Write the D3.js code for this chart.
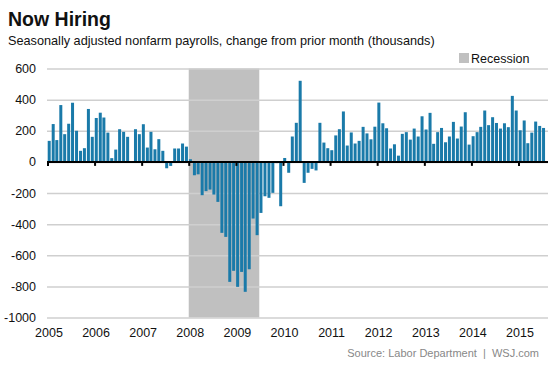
<!DOCTYPE html>
<html>
<head>
<meta charset="utf-8">
<script src="https://cdn.jsdelivr.net/npm/d3@7"></script>
<style>
  body { margin: 0; background: #fff; }
  svg { font-family: "Liberation Sans", Arial, sans-serif; }
</style>
</head>
<body>
<div id="chart"></div>
<script>
// monthly change in nonfarm payrolls, thousands (Jan 2005 - Jul 2015)
var years = [2005, 2006, 2007, 2008, 2009, 2010, 2011, 2012, 2013, 2014, 2015];

var jobs2005 = [135, 243, 140, 365, 178, 245, 380, 200, 71, 88, 340, 161];
var jobs2006 = [282, 316, 285, 188, 24, 79, 210, 193, 161, 3, 210, 178];
var jobs2007 = [242, 92, 193, 81, 146, 71, -41, -26, 86, 86, 118, 98];
var jobs2008 = [17, -86, -80, -214, -188, -178, -210, -257, -456, -482, -771, -700];
var jobs2009 = [-803, -707, -835, -690, -364, -471, -328, -221, -231, -199, -8, -285];
var jobs2010 = [25, -70, 163, 251, 521, -135, -70, -45, -55, 251, 124, 88];
var jobs2011 = [75, 170, 210, 324, 105, 189, 118, 135, 225, 183, 145, 226];
var jobs2012 = [381, 248, 216, 86, 113, 40, 180, 191, 143, 214, 163, 293];
var jobs2013 = [208, 315, 116, 191, 218, 126, 163, 257, 150, 227, 319, 111];
var jobs2014 = [165, 191, 225, 330, 236, 287, 250, 214, 248, 223, 424, 330];
var jobs2015 = [203, 266, 120, 188, 259, 231, 218];

var yTicks = [600, 400, 200, 0, -200, -400, -600, -800, -1000];
var recession = [new Date(2008, 0, 1), new Date(2009, 6, 1)];

var allYears = [jobs2005, jobs2006, jobs2007, jobs2008, jobs2009, jobs2010,
                jobs2011, jobs2012, jobs2013, jobs2014, jobs2015];
var data = [];
allYears.forEach(function(arr, i) {
  arr.forEach(function(v, m) {
    data.push({ date: new Date(years[i], m, 1), value: v });
  });
});

var width = 553,
    height = 369;

var svg = d3.select("#chart")
    .append("svg")
    .attr("width", width)
    .attr("height", height);

var xScale = d3.scaleTime()
    .domain([new Date(2005, 0, 1), new Date(2015, 0, 1)])
    .range([47.5, 518.5]);

var yScale = d3.scaleLinear()
    .domain([-1000, 600])
    .range([317.5, 68.5]);

var gridLeft = 47, gridRight = 548;

// recession shading
svg.append("rect")
    .attr("x", xScale(recession[0]))
    .attr("y", yScale(600))
    .attr("width", xScale(recession[1]) - xScale(recession[0]))
    .attr("height", yScale(-1000) - yScale(600))
    .attr("fill", "#c0c0c0");

// gridlines + y labels (plain hyphen for negatives, as in the original)
var yAxis = d3.axisLeft(yScale)
    .tickValues(yTicks)
    .tickSize(-(gridRight - gridLeft))
    .tickPadding(11)
    .tickFormat(function(d) { return String(d); });

var yg = svg.append("g")
    .attr("class", "yAxis")
    .attr("transform", "translate(" + gridLeft + ",0)")
    .call(yAxis);
yg.select(".domain").remove();
yg.selectAll(".tick line")
    .attr("stroke", "#cfcfcf")
    .attr("stroke-width", 1.5);
yg.selectAll(".tick text")
    .attr("fill", "#111")
    .style("font-size", "12.5px");

// bars
var barW = 3;
svg.append("g")
    .selectAll("rect")
    .data(data)
    .enter().append("rect")
    .attr("x", function(d) { return xScale(d.date) + 0.2; })
    .attr("width", barW)
    .attr("y", function(d) { return yScale(Math.max(0, d.value)); })
    .attr("height", function(d) { return Math.abs(yScale(d.value) - yScale(0)); })
    .attr("fill", "#1a7aa9");

// zero line with year ticks
svg.append("line")
    .attr("x1", gridLeft).attr("x2", gridRight)
    .attr("y1", yScale(0)).attr("y2", yScale(0))
    .attr("stroke", "#000")
    .attr("stroke-width", 2);

var xAxis = d3.axisBottom(xScale)
    .ticks(d3.timeYear.every(1))
    .tickSize(4)
    .tickFormat("");

var xg = svg.append("g")
    .attr("transform", "translate(0," + yScale(0) + ")")
    .call(xAxis);
xg.select(".domain").remove();
xg.selectAll(".tick line").attr("stroke", "#000").attr("stroke-width", 2);

// year labels below the plot
svg.append("g")
    .selectAll("text")
    .data(years)
    .enter().append("text")
    .attr("x", function(d) { return xScale(new Date(d, 0, 1)) + 1.5; })
    .attr("y", 337)
    .attr("text-anchor", "middle")
    .attr("fill", "#111")
    .style("font-size", "12.5px")
    .text(function(d) { return d; });

// titles
svg.append("text")
    .attr("x", 8).attr("y", 26)
    .style("font-size", "19.5px")
    .style("font-weight", "bold")
    .attr("fill", "#111")
    .text("Now Hiring");

svg.append("text")
    .attr("x", 8).attr("y", 45)
    .style("font-size", "12.7px")
    .attr("fill", "#111")
    .text("Seasonally adjusted nonfarm payrolls, change from prior month (thousands)");

// legend
svg.append("rect")
    .attr("x", 459).attr("y", 53)
    .attr("width", 10).attr("height", 10)
    .attr("fill", "#c0c0c0");
svg.append("text")
    .attr("x", 471).attr("y", 63)
    .style("font-size", "12.5px")
    .attr("fill", "#111")
    .text("Recession");

// source
svg.append("text")
    .attr("x", 539).attr("y", 357)
    .attr("text-anchor", "end")
    .style("font-size", "11px")
    .style("white-space", "pre")
    .attr("fill", "#888")
    .text("Source: Labor Department  |  WSJ.com");
</script>
</body>
</html>
